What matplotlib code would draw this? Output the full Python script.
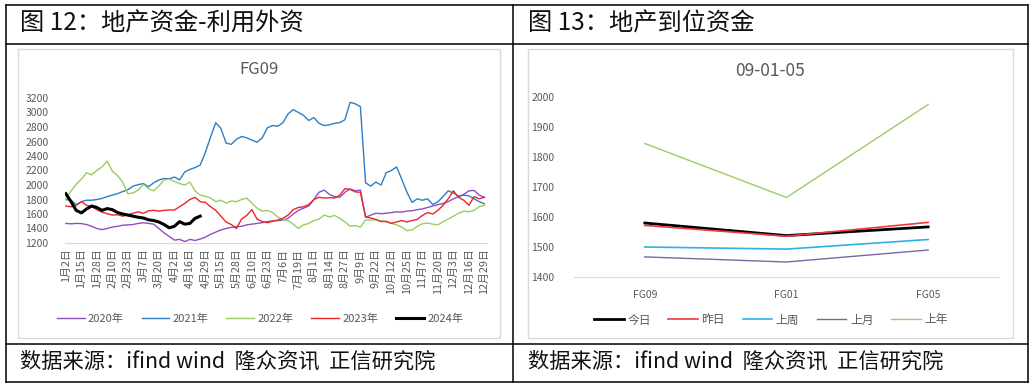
import numpy as np
import matplotlib.pyplot as plt
from matplotlib.patches import Rectangle
from matplotlib.lines import Line2D

plt.rcParams['font.family'] = ['Noto Sans CJK SC', 'DejaVu Sans']

# ---- left chart: FG09 by year (one value every 3 trading days) ----
date_labels = ['1月2日', '1月15日', '1月28日', '2月10日', '2月23日', '3月7日', '3月20日',
               '4月2日', '4月16日', '4月29日', '5月15日', '5月28日', '6月10日', '6月23日',
               '7月6日', '7月19日', '8月1日', '8月14日', '8月27日', '9月9日', '9月22日',
               '10月12日', '10月25日', '11月7日', '11月20日', '12月3日', '12月16日', '12月29日']

fg09_2020 = [1470, 1465, 1470, 1468, 1455, 1430, 1400, 1385, 1400, 1420, 1430, 1445, 1450, 1455,
             1470, 1480, 1470, 1460, 1400, 1340, 1290, 1240, 1250, 1220, 1250, 1235, 1255, 1280,
             1320, 1350, 1380, 1400, 1415, 1425, 1430, 1450, 1460, 1470, 1480, 1495, 1505, 1510,
             1515, 1540, 1600, 1650, 1680, 1710, 1800, 1900, 1930, 1870, 1840, 1830, 1900, 1945,
             1920, 1930, 1555, 1585, 1610, 1605, 1610, 1620, 1630, 1625, 1640, 1645, 1660, 1670,
             1690, 1710, 1730, 1745, 1770, 1810, 1840, 1870, 1920, 1925, 1860, 1830]
fg09_2021 = [1800, 1790, 1730, 1770, 1790, 1790, 1800, 1815, 1840, 1860, 1880, 1910, 1935, 1985,
             2005, 2020, 1975, 2030, 2070, 2090, 2085, 2110, 2070, 2180, 2215, 2240, 2275, 2450,
             2660, 2860, 2780, 2580, 2560, 2630, 2670, 2650, 2620, 2590, 2650, 2790, 2820, 2810,
             2860, 2980, 3040, 3000, 2960, 2890, 2930, 2850, 2820, 2830, 2850, 2860, 2900, 3140,
             3120, 3080, 2030, 1985, 2040, 2000, 2170, 2200, 2250, 2080, 1900, 1760, 1810, 1790,
             1810, 1730, 1770, 1840, 1920, 1890, 1845, 1860, 1850, 1810, 1770, 1740]
fg09_2022 = [1800, 1920, 2010, 2080, 2170, 2140, 2200, 2250, 2330, 2190, 2130, 2040, 1880, 1890,
             1930, 2010, 1950, 1920, 1985, 2070, 2080, 2050, 2020, 2000, 2040, 1920, 1860, 1845,
             1820, 1770, 1790, 1750, 1780, 1770, 1800, 1820, 1750, 1680, 1640, 1650, 1620, 1560,
             1520, 1510, 1460, 1400, 1450, 1470, 1510, 1530, 1585, 1560, 1580, 1540, 1490, 1430,
             1440, 1420, 1520, 1515, 1520, 1505, 1490, 1470, 1450, 1420, 1370, 1380, 1430, 1465,
             1475, 1460, 1450, 1495, 1530, 1570, 1610, 1640, 1630, 1650, 1700, 1720]
fg09_2023 = [1710, 1700, 1720, 1770, 1720, 1700, 1660, 1625, 1605, 1585, 1590, 1570, 1590, 1610,
             1630, 1610, 1645, 1650, 1640, 1650, 1655, 1655, 1700, 1745, 1800, 1830, 1770, 1760,
             1700, 1650, 1570, 1490, 1455, 1400, 1530, 1580, 1660, 1530, 1495, 1480, 1500, 1515,
             1540, 1585, 1660, 1690, 1700, 1730, 1800, 1830, 1820, 1825, 1820, 1860, 1950, 1940,
             1905, 1900, 1560, 1545, 1525, 1495, 1500, 1470, 1490, 1510, 1490, 1510, 1525, 1580,
             1620, 1600, 1650, 1720, 1810, 1920, 1830, 1790, 1720, 1840, 1810, 1830]
fg09_2024 = [1880, 1770, 1650, 1615, 1670, 1710, 1690, 1650, 1675, 1660, 1620, 1600, 1585, 1570,
             1555, 1545, 1520, 1510, 1490, 1455, 1410, 1430, 1495, 1460, 1470, 1540, 1570]

year_series = [('2020年', fg09_2020, '#8E4FC0', 1.0),
               ('2021年', fg09_2021, '#2E7EC4', 1.0),
               ('2022年', fg09_2022, '#96CE62', 1.0),
               ('2023年', fg09_2023, '#E8262A', 1.0),
               ('2024年', fg09_2024, '#000000', 2.2)]

# ---- right chart: FG09 / FG01 / FG05 curve ----
contracts = ['FG09', 'FG01', 'FG05']
today = [1580, 1538, 1567]
yesterday = [1572, 1536, 1582]
last_week = [1500, 1493, 1525]
last_month = [1467, 1450, 1490]
last_year = [1845, 1665, 1975]

curve_series = [('今日', today, '#000000', 2.0),
                ('昨日', yesterday, '#F03A3A', 1.2),
                ('上周', last_week, '#2BB3E6', 1.2),
                ('上月', last_month, '#8064A2', 1.0),
                ('上年', last_year, '#9ACD62', 1.0)]

W, H = 1033, 387
fig = plt.figure(figsize=(W / 100, H / 100), dpi=100)


def fx(px):
    return px / W


def fy(py):
    return 1 - py / H


# table lines
for y in (5, 44, 344, 382):
    fig.add_artist(Line2D([fx(5.5), fx(1028)], [fy(y), fy(y)], color='black', lw=1.1))
for x in (5.5, 513, 1028):
    fig.add_artist(Line2D([fx(x), fx(x)], [fy(5), fy(382)], color='black', lw=1.1))

# chart frames
for x0, x1 in ((18, 500), (528, 1013)):
    fig.add_artist(Rectangle((fx(x0), fy(338)), fx(x1 - x0), (338 - 49) / H,
                             fill=False, edgecolor='#D9D9D9', lw=1.0))

fig.text(fx(20), fy(24), '图 12：地产资金-利用外资', fontsize=17.5, va='center', color='#111111')
fig.text(fx(528), fy(24), '图 13：地产到位资金', fontsize=17.5, va='center', color='#111111')
src = '数据来源：ifind wind  隆众资讯  正信研究院'
fig.text(fx(20), fy(362), src, fontsize=15.3, va='center', color='#111111')
fig.text(fx(528), fy(362), src, fontsize=15.3, va='center', color='#111111')

# left chart
ax1 = fig.add_axes([fx(65), fy(243), fx(487 - 65), (243 - 98) / H])
step = 3
for name, vals, col, lw in year_series:
    ax1.plot(np.arange(len(vals)) * step, vals, color=col, lw=lw, label=name)
ax1.set_ylim(1200, 3200)
ax1.set_yticks(range(1200, 3201, 200))
ax1.set_xlim(-0.5, 244.5)
ax1.set_xticks(np.arange(len(date_labels)) * 9)
ax1.set_xticklabels(date_labels, rotation=90, fontsize=7.8, color='#595959')
ax1.tick_params(axis='y', labelsize=7.5, labelcolor='#595959', length=0, pad=12)
ax1.tick_params(axis='x', length=0, pad=4)
for s in ('top', 'right', 'left'):
    ax1.spines[s].set_visible(False)
ax1.spines['bottom'].set_color('#D9D9D9')
fig.text(fx(259), fy(70), 'FG09', fontsize=12, color='#595959', ha='center', va='center')
fig.legend(*ax1.get_legend_handles_labels(), loc='center', bbox_to_anchor=(fx(260), fy(319)),
           ncol=5, frameon=False, fontsize=8, handlelength=2.5, handletextpad=0.3,
           columnspacing=1.6, labelcolor='#595959')

# right chart
ax2 = fig.add_axes([fx(574), fy(277), fx(999 - 574), (277 - 97) / H])
xs = np.arange(len(contracts))
for name, vals, col, lw in curve_series:
    ax2.plot(xs, vals, color=col, lw=lw, label=name)
ax2.set_ylim(1400, 2000)
ax2.set_yticks(range(1400, 2001, 100))
ax2.set_xlim(-0.5, 2.5)
ax2.set_xticks(xs)
ax2.set_xticklabels(contracts, fontsize=7.5, color='#595959')
ax2.tick_params(axis='y', labelsize=7.5, labelcolor='#595959', length=0, pad=14)
ax2.tick_params(axis='x', length=0, pad=9)
for s in ('top', 'right', 'left'):
    ax2.spines[s].set_visible(False)
ax2.spines['bottom'].set_color('#D9D9D9')
fig.text(fx(770), fy(71), '09-01-05', fontsize=12.5, color='#595959', ha='center', va='center')
fig.legend(*ax2.get_legend_handles_labels(), loc='center', bbox_to_anchor=(fx(771), fy(320)),
           ncol=5, frameon=False, fontsize=8.5, handlelength=2.5, handletextpad=0.3,
           columnspacing=1.5, labelcolor='#595959')

fig.savefig('out.png', dpi=100)
